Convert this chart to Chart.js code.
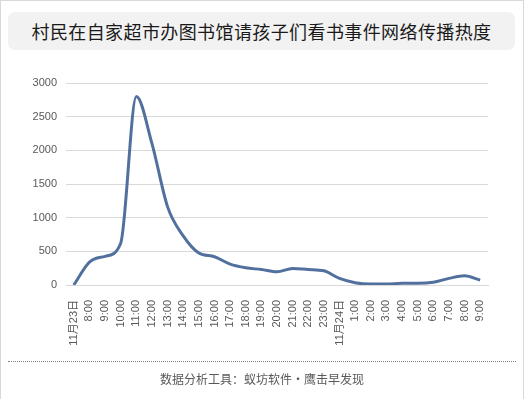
<!DOCTYPE html>
<html>
<head>
<meta charset="utf-8">
<script src="https://cdn.jsdelivr.net/npm/chart.js@4"></script>
<style>
    html, body { margin: 0; padding: 0; background: #fff; }
    #wrap {
        position: relative;
        width: 522px;
        height: 398px;
        border: 1px solid #d9d9d9;
        font-family: "Noto Sans CJK SC", "Liberation Sans", sans-serif;
    }
    #title {
        position: absolute;
        left: 7px; top: 11px;
        width: 507px; height: 38px;
        background: #f2f2f2;
        border-radius: 7px;
        text-align: center;
        line-height: 38px;
        font-size: 18px;
        letter-spacing: 0.4px;
        white-space: nowrap;
        color: #1a1a1a;
    }
    #chart { position: absolute; left: -1px; top: -1px; }
    #rule {
        position: absolute;
        left: 7px; top: 360px;
        width: 508px;
        border-top: 1px dotted #7f7f7f;
    }
    #foot {
        position: absolute;
        left: 0; top: 369px;
        width: 522px;
        text-align: center;
        font-size: 12px;
        color: #595959;
    }
</style>
</head>
<body>
<div id="wrap">
    <canvas id="chart" width="526" height="399"></canvas>
    <div id="title">村民在自家超市办图书馆请孩子们看书事件网络传播热度</div>
    <div id="rule"></div>
    <div id="foot">数据分析工具：蚁坊软件·鹰击早发现</div>
</div>
<script>
// --- data ---
const hours = ['11月23日', '8:00', '9:00', '10:00', '11:00', '12:00', '13:00', '14:00', '15:00',
    '16:00', '17:00', '18:00', '19:00', '20:00', '21:00', '22:00', '23:00',
    '11月24日', '1:00', '2:00', '3:00', '4:00', '5:00', '6:00', '7:00', '8:00', '9:00'];
const heat = [0, 340, 425, 620, 2800, 2100, 1160, 730, 475,
    420, 310, 255, 230, 196, 245, 230, 211,
    98, 34, 15, 15, 25, 25, 40, 98, 137, 73];
const yTicks = [0, 500, 1000, 1500, 2000, 2500, 3000];

const labelFont = { family: '"Liberation Sans", "Noto Sans CJK SC", sans-serif', size: 11 };

new Chart(document.getElementById('chart'), {
    type: 'line',
    data: {
        labels: hours,
        datasets: [{
            data: heat,
            borderColor: '#52709e',
            borderWidth: 3,
            pointRadius: 0,
            cubicInterpolationMode: 'monotone',
            fill: false
        }]
    },
    options: {
        responsive: false,
        animation: false,
        layout: { padding: { top: 83, right: 38, bottom: 54, left: 0 } },
        plugins: { legend: { display: false }, tooltip: { enabled: false } },
        scales: {
            x: {
                offset: true,
                grid: { display: false },
                border: { color: '#d9d9d9' },
                ticks: {
                    autoSkip: false,
                    minRotation: 90,
                    maxRotation: 90,
                    padding: 7,
                    color: '#595959',
                    font: labelFont
                },
                afterFit: s => { s.height = 60; }
            },
            y: {
                min: 0,
                max: 3000,
                afterBuildTicks: s => { s.ticks = yTicks.map(v => ({ value: v })); },
                grid: { color: '#d9d9d9', drawTicks: false },
                border: { display: false },
                ticks: { padding: 9, color: '#595959', font: labelFont, callback: v => String(v) },
                afterFit: s => { s.width = 66; }
            }
        }
    }
});
</script>
</body>
</html>
